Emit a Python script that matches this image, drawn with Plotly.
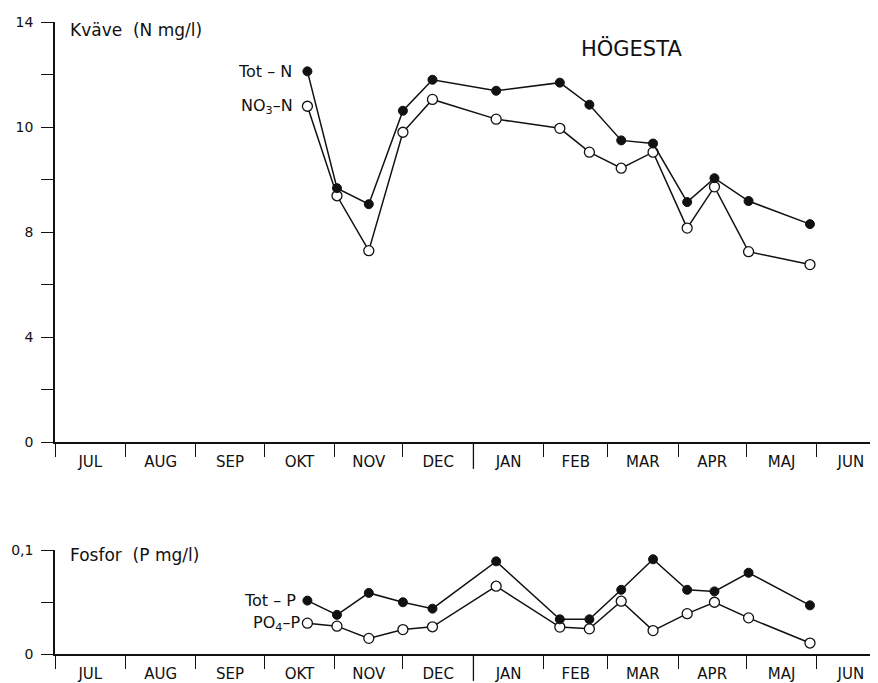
import plotly.graph_objects as go

# ---- data ----
dates = ["1976-10-20", "1976-11-02", "1976-11-16", "1976-12-01", "1976-12-14",
         "1977-01-11", "1977-02-08", "1977-02-21", "1977-03-07", "1977-03-21",
         "1977-04-05", "1977-04-17", "1977-05-02", "1977-05-29"]
# nitrogen, in units of the axis grid (one tick = 2 units; printed labels below)
tot_n = [14.12, 9.67, 9.06, 12.62, 13.8, 13.38, 13.69, 12.85, 11.49, 11.37, 9.14, 10.05, 9.18, 8.30]
no3_n = [12.79, 9.38, 7.29, 11.8, 13.05, 12.3, 11.95, 11.04, 10.43, 11.04, 8.15, 9.72, 7.25, 6.76]
# phosphorus, P mg/l
tot_p = [0.0516, 0.0378, 0.059, 0.0500, 0.0438, 0.0895, 0.0335, 0.0335, 0.062, 0.0915, 0.062, 0.0605, 0.0785, 0.047]
po4_p = [0.0298, 0.0269, 0.0151, 0.0236, 0.0263, 0.0655, 0.026, 0.0243, 0.051, 0.0226, 0.039, 0.050, 0.0349, 0.0106]

month_starts = ["1976-07-01", "1976-08-01", "1976-09-01", "1976-10-01", "1976-11-01", "1976-12-01",
                "1977-01-01", "1977-02-01", "1977-03-01", "1977-04-01", "1977-05-01", "1977-06-01"]
month_mids = ["1976-07-16 12:00", "1976-08-16 12:00", "1976-09-16", "1976-10-16 12:00", "1976-11-16",
              "1976-12-16 12:00", "1977-01-16 12:00", "1977-02-15", "1977-03-16 12:00", "1977-04-16",
              "1977-05-16 12:00", "1977-06-16"]
month_labels = ["JUL", "AUG", "SEP", "OKT", "NOV", "DEC", "JAN", "FEB", "MAR", "APR", "MAJ", "JUN"]
year_start = "1977-01-01"

n_tickvals = [0, 2, 4, 6, 8, 10, 12, 14, 16]
n_ticktext = ["0", "", "4", "", "8", "", "10", "", "14"]
p_tickvals = [0, 0.05, 0.1]
p_ticktext = ["0", "", "0,1"]

FONT = "DejaVu Sans"
BLACK = "#111111"

fig = go.Figure()

filled = dict(symbol="circle", size=9, color=BLACK, line=dict(color=BLACK, width=1))
hollow = dict(symbol="circle", size=10, color="white", line=dict(color=BLACK, width=1.3))
ln = dict(color=BLACK, width=1.5)

fig.add_trace(go.Scatter(x=dates, y=no3_n, mode="lines+markers", line=ln, marker=hollow,
                         xaxis="x", yaxis="y", showlegend=False))
fig.add_trace(go.Scatter(x=dates, y=tot_n, mode="lines+markers", line=ln, marker=filled,
                         xaxis="x", yaxis="y", showlegend=False))
fig.add_trace(go.Scatter(x=dates, y=po4_p, mode="lines+markers", line=ln, marker=hollow,
                         xaxis="x2", yaxis="y2", showlegend=False))
fig.add_trace(go.Scatter(x=dates, y=tot_p, mode="lines+markers", line=ln, marker=filled,
                         xaxis="x2", yaxis="y2", showlegend=False))

# page body has an 8px margin in the browser
W, H = 870, 675
ml, mr, mt, mb = 47, 0, 14, 26
ph = H - mt - mb
pw = W - ml - mr
top_dom = [213 / ph, 1.0]
bot_dom = [0.0, 104 / ph]

xrange_ = ["1976-07-01", "1977-06-27 22:00"]

def xaxis(anchor):
    return dict(type="date", range=xrange_, anchor=anchor, showgrid=False, zeroline=False,
                showline=True, linecolor=BLACK, linewidth=1.5,
                tickmode="array", tickvals=month_mids, ticktext=month_labels,
                ticks="outside", ticklen=0, ticklabelstandoff=5,
                tickfont=dict(family=FONT, size=15, color=BLACK),
                minor=dict(tickmode="array", tickvals=month_starts, ticks="outside",
                           ticklen=13, tickwidth=1.3, tickcolor=BLACK))

def yaxis(dom, rng, tv, tt, anchor):
    return dict(domain=dom, range=rng, anchor=anchor, showgrid=False, zeroline=False,
                showline=True, linecolor=BLACK, linewidth=1.5,
                tickmode="array", tickvals=tv, ticktext=tt, ticks="outside", ticklen=12,
                tickwidth=1.3, tickcolor=BLACK, ticklabelstandoff=5,
                tickfont=dict(family=FONT, size=14, color=BLACK))

fig.update_layout(
    width=W, height=H, margin=dict(l=ml, r=mr, t=mt, b=mb),
    paper_bgcolor="white", plot_bgcolor="white",
    xaxis=xaxis("y"), xaxis2=xaxis("y2"),
    yaxis=yaxis(top_dom, [0, 16], n_tickvals, n_ticktext, "x"),
    yaxis2=yaxis(bot_dom, [0, 0.1], p_tickvals, p_ticktext, "x2"),
    font=dict(family=FONT, color=BLACK),
)

# longer tick at the turn of the year on both x axes
for xr, dom in (("x", top_dom), ("x2", bot_dom)):
    fig.add_shape(type="line", xref=xr, yref="paper", x0=year_start, x1=year_start,
                  y0=dom[0], y1=dom[0] - 27 / ph, line=dict(color=BLACK, width=1.3))

ann_font = dict(family=FONT, size=16, color=BLACK)
title_font = dict(family=FONT, size=17, color=BLACK)
NB = "\u00a0"
fig.add_annotation(text="Kväve" + NB + NB + "(N" + NB + "mg/l)", xref="paper", yref="y",
                   x=(68 - 8 - ml) / pw, y=16, xanchor="left", yanchor="middle",
                   showarrow=False, font=title_font, yshift=-8)
fig.add_annotation(text="Fosfor" + NB + NB + "(P" + NB + "mg/l)", xref="paper", yref="y2",
                   x=(68 - 8 - ml) / pw, y=0.1, xanchor="left", yanchor="middle",
                   showarrow=False, font=title_font, yshift=-5)
fig.add_annotation(text="HÖGESTA", xref="paper", yref="y", x=(631 - 8 - ml) / pw, y=15,
                   xanchor="center", yanchor="middle", showarrow=False,
                   font=dict(family=FONT, size=21, color=BLACK))
fig.add_annotation(text="Tot – N", xref="x", yref="y", x=dates[0], y=tot_n[0],
                   xanchor="right", yanchor="middle", xshift=-13, showarrow=False, font=ann_font)
fig.add_annotation(text="NO<sub>3</sub>–N", xref="x", yref="y", x=dates[0], y=no3_n[0],
                   xanchor="right", yanchor="middle", xshift=-12, showarrow=False, font=ann_font)
fig.add_annotation(text="Tot – P", xref="x2", yref="y2", x=dates[0], y=tot_p[0],
                   xanchor="right", yanchor="middle", xshift=-9, showarrow=False, font=ann_font)
fig.add_annotation(text="PO<sub>4</sub>–P", xref="x2", yref="y2", x=dates[0], y=po4_p[0],
                   xanchor="right", yanchor="middle", xshift=-5, showarrow=False, font=ann_font)

fig.write_html("out.html")
